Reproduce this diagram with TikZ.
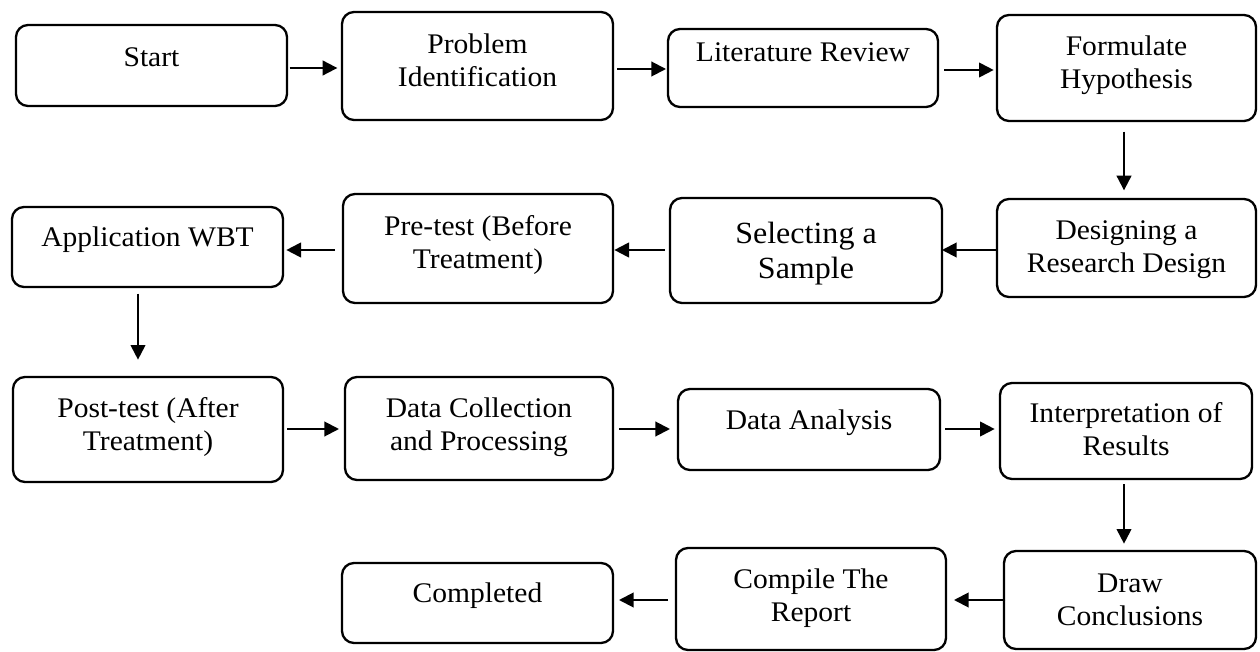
\documentclass[tikz,border=0pt]{standalone}
\usepackage{fontspec}
\setmainfont{Liberation Serif}[FakeStretch=1.04]
\usetikzlibrary{arrows.meta}
\begin{document}
\begin{tikzpicture}[x=0.75pt,y=-0.75pt,
  box/.style={draw,rounded corners=9pt,line width=1.75pt,inner sep=0pt,outer sep=0pt},
  txt/.style={align=center,font=\fontsize{21.3}{24.75}\selectfont,inner sep=0pt},
  bigtxt/.style={align=center,font=\fontsize{23.1}{26.25}\selectfont,inner sep=0pt},
  arr/.style={-{Triangle[length=11pt,width=11pt]},line width=1.5pt}]
\useasboundingbox (0,0) rectangle (1260,652);
% boxes
\node[box,minimum width=203.25pt,minimum height=60.75pt] (start) at (151.5,65.5) {};
\node[box,minimum width=203.25pt,minimum height=81pt] (prob) at (477.5,66) {};
\node[box,minimum width=202.5pt,minimum height=58.5pt] (lit) at (803,68) {};
\node[box,minimum width=194.25pt,minimum height=79.5pt] (form) at (1126.5,68) {};
\node[box,minimum width=194.25pt,minimum height=73.5pt] (design) at (1126.5,248) {};
\node[box,minimum width=204pt,minimum height=78.75pt] (select) at (806,250.5) {};
\node[box,minimum width=202.5pt,minimum height=81.75pt] (pre) at (478,248.5) {};
\node[box,minimum width=203.25pt,minimum height=60pt] (app) at (147.5,247) {};
\node[box,minimum width=202.5pt,minimum height=78.75pt] (post) at (148,429.5) {};
\node[box,minimum width=201pt,minimum height=77.25pt] (datac) at (479,428.5) {};
\node[box,minimum width=196.5pt,minimum height=60.75pt] (da) at (809,429.5) {};
\node[box,minimum width=189pt,minimum height=72pt] (interp) at (1126,431) {};
\node[box,minimum width=189pt,minimum height=73.5pt] (drawc) at (1130,600) {};
\node[box,minimum width=202.5pt,minimum height=76.5pt] (compile) at (811,599) {};
\node[box,minimum width=203.25pt,minimum height=60pt] (done) at (477.5,603) {};
% texts
\node[txt] (start-t) at (start.center |- 0,60) {\strut Start};
\node[txt] (prob-t) at (prob.center |- 0,63.5) {\strut Problem\\Identification\strut};
\node[txt] (lit-t) at (lit.center |- 0,54.5) {\strut Literature Review};
\node[txt] (form-t) at (form.center |- 0,65.5) {\strut Formulate\\Hypothesis\strut};
\node[txt] (design-t) at (design.center |- 0,249.5) {\strut Designing a\\Research Design\strut};
\node[bigtxt] (select-t) at (select.center |- 0,254) {\strut Selecting a\\Sample\strut};
\node[txt] (pre-t) at (pre.center |- 0,245.5) {\strut Pre-test (Before\\Treatment)\strut};
\node[txt] (app-t) at (app.center |- 0,239.5) {\strut Application WBT};
\node[txt] (post-t) at (post.center |- 0,427.5) {\strut Post-test (After\\Treatment)\strut};
\node[txt] (datac-t) at (datac.center |- 0,427.5) {\strut Data Collection\\and Processing\strut};
\node[txt] (da-t) at (da.center |- 0,423) {\strut Data Analysis};
\node[txt] (interp-t) at (interp.center |- 0,432) {\strut Interpretation of\\Results\strut};
\node[txt] (drawc-t) at (drawc.center |- 0,602) {\strut Draw\\Conclusions\strut};
\node[txt] (compile-t) at (compile.center |- 0,598.5) {\strut Compile The\\Report\strut};
\node[txt] (done-t) at (done.center |- 0,596) {\strut Completed};
% arrows
\draw[arr,shorten <=2pt,shorten >=3.5pt] (start.east |- 0,68) -- (prob.west |- 0,68);
\draw[arr,shorten <=3pt,shorten >=1.5pt] (prob.east |- 0,69) -- (lit.west |- 0,69);
\draw[arr,shorten <=4.5pt,shorten >=2.5pt] (lit.east |- 0,70) -- (form.west |- 0,70);
\draw[arr,shorten <=8pt,shorten >=6.5pt] (form.south -| 1124,0) -- (design.north -| 1124,0);
\draw[arr,shorten <=-0.5pt,shorten >=0pt] (design.west |- 0,250) -- (select.east |- 0,250);
\draw[arr,shorten <=4pt,shorten >=1pt] (select.west |- 0,250) -- (pre.east |- 0,250);
\draw[arr,shorten <=6pt,shorten >=2.5pt] (pre.west |- 0,250) -- (app.east |- 0,250);
\draw[arr,shorten <=5pt,shorten >=13pt] (app.south -| 138,0) -- (post.north -| 138,0);
\draw[arr,shorten <=3pt,shorten >=4.5pt] (post.east |- 0,429) -- (datac.west |- 0,429);
\draw[arr,shorten <=4.5pt,shorten >=6pt] (datac.east |- 0,429) -- (da.west |- 0,429);
\draw[arr,shorten <=4pt,shorten >=4pt] (da.east |- 0,429) -- (interp.west |- 0,429);
\draw[arr,shorten <=4pt,shorten >=5.5pt] (interp.south -| 1124,0) -- (drawc.north -| 1124,0);
\draw[arr,shorten <=-1pt,shorten >=6pt] (drawc.west |- 0,600) -- (compile.east |- 0,600);
\draw[arr,shorten <=6pt,shorten >=4.5pt] (compile.west |- 0,600) -- (done.east |- 0,600);
\end{tikzpicture}
\end{document}
